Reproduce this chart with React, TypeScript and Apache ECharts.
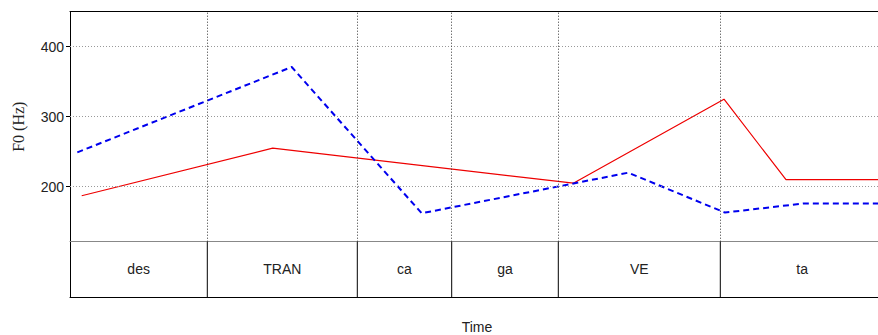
import React, { useEffect, useRef } from "react";
import * as echarts from "echarts";

// Time axis (arbitrary units, 0..814)
const TIME_MIN = 0;
const TIME_MAX = 814;

// Syllable boundaries and labels
const syllableBounds = [0, 137.3, 287.3, 381.7, 488.3, 650.3, 814];
const syllables = ["des", "TRAN", "ca", "ga", "VE", "ta"];

// F0 contours [time, Hz]
const redContour: [number, number][] = [
  [11.7, 187],
  [202.7, 255],
  [503.3, 205],
  [654, 325],
  [716, 210],
  [814, 210],
];
const blueContour: [number, number][] = [
  [7.3, 249],
  [221.7, 371],
  [351.7, 162],
  [558.3, 220],
  [655, 163],
  [733.3, 176],
  [814, 176],
];

const yTicks = [200, 300, 400];
const Y_MIN = 121.4;
const Y_MAX = 450;

export default function App() {
  const ref = useRef<HTMLDivElement>(null);
  useEffect(() => {
    if (!ref.current) return;
    const chart = echarts.init(ref.current, null, { renderer: "svg" });
    const innerBounds = syllableBounds.slice(1, -1);
    const sylData = syllables.map((s, i) => [syllableBounds[i], syllableBounds[i + 1], s]);
    chart.setOption({
      animation: false,
      grid: [
        { left: 70, right: 0, top: 11.7, height: 230 },
        { left: 70, right: 0, top: 241.7, height: 58 },
      ],
      xAxis: [
        {
          gridIndex: 0, type: "value", min: TIME_MIN, max: TIME_MAX, position: "bottom",
          axisLine: { show: true, onZero: false, lineStyle: { color: "#888", width: 1 } },
          axisTick: { show: false }, axisLabel: { show: false }, splitLine: { show: false },
        },
        {
          gridIndex: 0, type: "value", min: TIME_MIN, max: TIME_MAX, position: "top",
          axisLine: { show: true, onZero: false, lineStyle: { color: "#000", width: 1 } },
          axisTick: { show: false }, axisLabel: { show: false }, splitLine: { show: false },
        },
        {
          gridIndex: 1, type: "value", min: TIME_MIN, max: TIME_MAX, position: "bottom",
          axisLine: { show: true, onZero: false, lineStyle: { color: "#000", width: 1 } },
          axisTick: { show: false }, axisLabel: { show: false }, splitLine: { show: false },
          name: "Time", nameLocation: "middle", nameGap: 23,
          nameTextStyle: { fontFamily: "Liberation Sans, Arial, sans-serif", fontSize: 14, color: "#222" },
        },
      ],
      yAxis: [
        {
          gridIndex: 0, type: "value", min: Y_MIN, max: Y_MAX,
          axisLine: { show: true, onZero: false, lineStyle: { color: "#000", width: 1 } },
          axisTick: { show: true, length: 4, customValues: yTicks, lineStyle: { color: "#000" } },
          axisLabel: {
            customValues: yTicks, margin: 6, fontSize: 14, color: "#222",
            fontFamily: "Liberation Sans, Arial, sans-serif",
          },
          splitLine: { show: false },
          name: "F0 (Hz)", nameLocation: "middle", nameGap: 44,
          nameTextStyle: { fontFamily: "Liberation Serif, Times New Roman, serif", fontSize: 16, color: "#222" },
        },
        {
          gridIndex: 1, type: "value", min: 0, max: 1,
          axisLine: { show: true, onZero: false, lineStyle: { color: "#000", width: 1 } },
          axisTick: { show: false }, axisLabel: { show: false }, splitLine: { show: false },
        },
      ],
      series: [
        {
          type: "line", xAxisIndex: 0, yAxisIndex: 0, data: [], silent: true,
          markLine: {
            silent: true, symbol: ["none", "none"], label: { show: false },
            lineStyle: { color: "#999", type: [1, 2], width: 1 },
            data: yTicks.map((v) => ({ yAxis: v })),
          },
        },
        {
          type: "line", xAxisIndex: 0, yAxisIndex: 0, data: [], silent: true,
          markLine: {
            silent: true, symbol: ["none", "none"], label: { show: false },
            lineStyle: { color: "#333", type: [1, 2], width: 1 },
            data: innerBounds.map((v) => ({ xAxis: v })),
          },
        },
        {
          type: "line", xAxisIndex: 0, yAxisIndex: 0, data: redContour,
          showSymbol: false, symbol: "none",
          lineStyle: { color: "#ee0000", width: 1.2, type: "solid" },
        },
        {
          type: "line", xAxisIndex: 0, yAxisIndex: 0, data: blueContour,
          showSymbol: false, symbol: "none",
          lineStyle: { color: "#0000ee", width: 2, type: [6, 4] },
        },
        {
          type: "custom", xAxisIndex: 2, yAxisIndex: 1, data: sylData,
          renderItem: (params: any, api: any) => {
            const x0 = api.value(0);
            const x1 = api.value(1);
            const label = sylData[params.dataIndex][2] as string;
            const p0 = api.coord([x0, 1]);
            const p1 = api.coord([x1, 0]);
            return {
              type: "group",
              children: [
                {
                  type: "line",
                  shape: { x1: p1[0], y1: p0[1], x2: p1[0], y2: p1[1] },
                  style: { stroke: "#000", lineWidth: 1 },
                },
                {
                  type: "text",
                  style: {
                    text: label, x: (p0[0] + p1[0]) / 2, y: (p0[1] + p1[1]) / 2,
                    align: "center", verticalAlign: "middle", fontSize: 14,
                    fontFamily: "Liberation Sans, Arial, sans-serif", fill: "#222",
                  },
                },
              ],
            };
          },
        },
      ],
    });
    return () => chart.dispose();
  }, []);
  return (
    <div style={{ position: "fixed", left: 0, top: 0, width: 878, height: 335, overflow: "hidden", background: "#fff" }}>
      <div ref={ref} style={{ width: 884, height: 335 }} />
    </div>
  );
}
